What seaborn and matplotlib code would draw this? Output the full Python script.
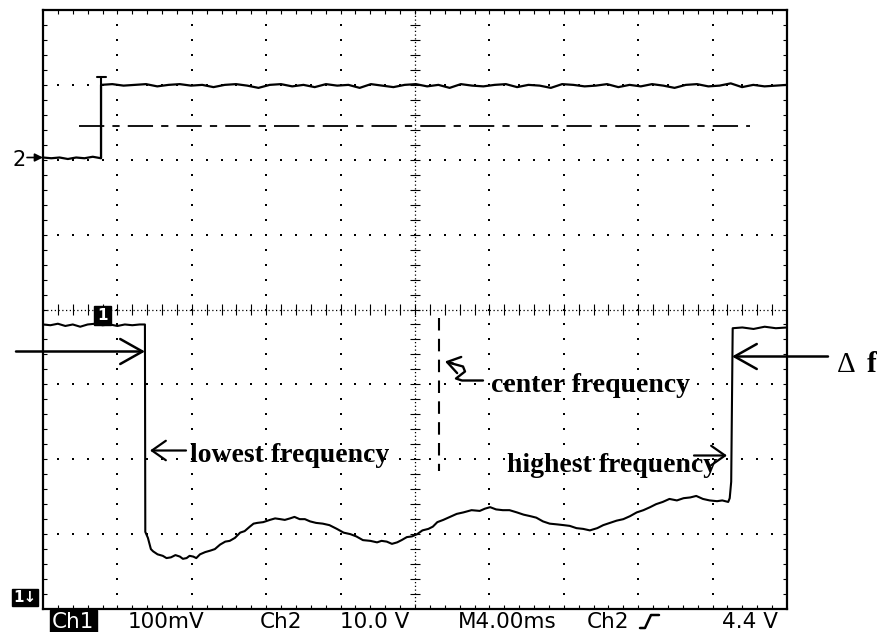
import numpy as np
import matplotlib
matplotlib.use("Agg")
import matplotlib.pyplot as plt
import seaborn as sns
from matplotlib.collections import LineCollection
from matplotlib.patches import Rectangle

# ---------------- data (screen divisions: x 0..10, y -4..4) ----------------
ch1_x = [0.00, 0.10, 0.20, 0.30, 0.40, 0.50, 0.60, 0.70, 0.80, 0.90,
         1.00, 1.10, 1.20, 1.30, 1.37, 1.375, 1.41, 1.45, 1.48, 1.54,
         1.61, 1.66, 1.72, 1.78, 1.84, 1.88, 1.93, 1.97, 2.02, 2.06,
         2.11, 2.18, 2.25, 2.31, 2.38, 2.45, 2.51, 2.58, 2.65, 2.71,
         2.78, 2.83, 2.88, 2.96, 3.05, 3.12, 3.19, 3.25, 3.32, 3.38,
         3.45, 3.52, 3.59, 3.67, 3.76, 3.85, 3.95, 4.04, 4.13, 4.21,
         4.30, 4.40, 4.49, 4.55, 4.62, 4.69, 4.76, 4.82, 4.89, 4.96,
         5.03, 5.10, 5.18, 5.24, 5.30, 5.38, 5.47, 5.56, 5.65, 5.76,
         5.87, 5.94, 6.01, 6.09, 6.18, 6.27, 6.37, 6.46, 6.55, 6.63,
         6.72, 6.81, 6.91, 7.00, 7.08, 7.17, 7.26, 7.35, 7.45, 7.53,
         7.62, 7.71, 7.80, 7.89, 7.98, 8.07, 8.16, 8.24, 8.33, 8.42,
         8.52, 8.61, 8.70, 8.78, 8.87, 8.96, 9.06, 9.13, 9.21, 9.23,
         9.25, 9.27, 9.40, 9.55, 9.70, 9.85, 10.00]
ch1_y = [-0.20, -0.21, -0.19, -0.22, -0.20, -0.23, -0.20, -0.19, -0.21, -0.20,
         -0.22, -0.20, -0.21, -0.20, -0.20, -2.97, -3.05, -3.20, -3.23, -3.27,
         -3.29, -3.32, -3.31, -3.28, -3.30, -3.33, -3.32, -3.29, -3.30, -3.32,
         -3.27, -3.24, -3.22, -3.20, -3.14, -3.10, -3.09, -3.05, -2.98, -2.96,
         -2.90, -2.86, -2.85, -2.84, -2.81, -2.79, -2.80, -2.81, -2.79, -2.77,
         -2.80, -2.80, -2.83, -2.85, -2.86, -2.88, -2.93, -2.98, -3.00, -3.03,
         -3.08, -3.09, -3.11, -3.09, -3.10, -3.13, -3.11, -3.08, -3.04, -3.03,
         -3.00, -2.95, -2.93, -2.90, -2.84, -2.81, -2.77, -2.73, -2.71, -2.68,
         -2.69, -2.66, -2.64, -2.67, -2.68, -2.68, -2.71, -2.74, -2.76, -2.78,
         -2.83, -2.86, -2.87, -2.88, -2.89, -2.92, -2.93, -2.95, -2.92, -2.88,
         -2.85, -2.82, -2.80, -2.76, -2.71, -2.68, -2.64, -2.60, -2.57, -2.53,
         -2.55, -2.52, -2.51, -2.49, -2.53, -2.55, -2.56, -2.55, -2.57, -2.52,
         -2.30, -0.25, -0.24, -0.26, -0.23, -0.25, -0.24]

ch2_step_x = 0.78
ch2_low_y = [2.03, 2.02, 2.03, 2.01, 2.03, 2.02, 2.04, 2.02]
ch2_high_y = [3.00, 3.01, 2.99, 3.00, 3.01, 2.98, 3.00, 3.01, 2.99, 3.00,
              2.97, 3.00, 3.01, 2.99, 2.96, 3.00, 3.01, 2.98, 3.00, 2.97,
              3.01, 2.99, 3.00, 2.96, 3.01, 2.99, 2.97, 3.00, 3.01, 2.98,
              3.00, 2.96, 3.01, 2.99, 2.98, 3.00, 3.01, 2.97, 3.00, 2.99,
              2.96, 3.01, 3.00, 2.98, 2.99, 3.01, 2.97, 3.00, 2.98, 3.01,
              2.99, 2.96, 3.00, 3.01, 2.98, 2.99, 3.02, 2.97, 3.00, 2.98,
              2.99, 3.00]
ch2_marker_top = 3.11
cursor_level = 2.45
cursor_span = [0.48, 9.50]
center_freq_x = 5.32
center_line_span = [-0.11, -2.16]

status_labels = ["Ch1", "100mV", "Ch2", "10.0 V", "M4.00ms", "Ch2", "4.4 V"]
annot_labels = ["lowest frequency", "center frequency", "highest frequency"]
delta_label = ["\u0394", "f"]

# ---------------- figure ----------------
sns.set_theme(style="white")
plt.rcParams['font.family'] = ['DejaVu Sans']
plt.rcParams['text.color'] = 'black'

W, H = 881, 632
fig = plt.figure(figsize=(W / 100, H / 100), dpi=100)
fig.patch.set_facecolor("white")
L, R, T, B = 43, 787, 10, 609
ax = fig.add_axes([L / W, 1 - B / H, (R - L) / W, (B - T) / H])
ax.set_xlim(0, 10)
ax.set_ylim(-4, 4)
ax.set_xticks([])
ax.set_yticks([])
ax.set_facecolor("white")
for s in ax.spines.values():
    s.set_color("black")
    s.set_linewidth(1.6)


def dx(px):
    return (px - L) / ((R - L) / 10)


def dy(py):
    return (310 - py) / ((B - T) / 8)


# graticule dots
gx, gy = [], []
for xv in range(1, 10):
    if xv == 5:
        continue
    for j in range(1, 40):
        gx.append(xv); gy.append(-4 + 0.2 * j)
for yv in range(-3, 4):
    if yv == 0:
        continue
    for j in range(1, 50):
        gx.append(0.2 * j); gy.append(yv)
ax.plot(gx, gy, ls="none", marker="s", ms=1.5, mew=0, color="black", zorder=1)

# centre cross (dense dotted with small ticks)
ax.plot([5, 5], [-4, 4], ls=(0, (1, 2)), lw=0.9, color="black", zorder=1)
ax.plot([0, 10], [0, 0], ls=(0, (1, 2)), lw=0.9, color="black", zorder=1)
segs = []
for j in range(1, 40):
    yv = -4 + 0.2 * j
    segs.append([(5 - 0.07, yv), (5 + 0.07, yv)])
for j in range(1, 50):
    xv = 0.2 * j
    segs.append([(xv, -0.07), (xv, 0.07)])
# border ticks
for j in range(1, 50):
    xv = 0.2 * j
    segs.append([(xv, 4), (xv, 4 - 0.055)])
    segs.append([(xv, -4), (xv, -4 + 0.055)])
for j in range(1, 40):
    yv = -4 + 0.2 * j
    segs.append([(0, yv), (0.055, yv)])
    segs.append([(10, yv), (10 - 0.055, yv)])
ax.add_collection(LineCollection(segs, colors="black", linewidths=0.8, zorder=1))

# ---------------- traces ----------------
ch2_x = list(np.linspace(0, ch2_step_x, len(ch2_low_y))) + \
        list(np.linspace(ch2_step_x, 10, len(ch2_high_y)))
ch2_y = ch2_low_y + ch2_high_y
sns.lineplot(x=ch2_x, y=ch2_y, estimator=None, sort=False, color="black",
             lw=1.6, ax=ax, legend=False, zorder=3)
sns.lineplot(x=ch1_x, y=ch1_y, estimator=None, sort=False, color="black",
             lw=1.5, ax=ax, legend=False, zorder=3)

# ch2 trigger marker "T"
ax.plot([ch2_step_x, ch2_step_x], [ch2_low_y[-1], ch2_marker_top], color="black", lw=1.5, zorder=3)
ax.plot([ch2_step_x - 0.06, ch2_step_x + 0.07], [ch2_marker_top, ch2_marker_top], color="black", lw=1.5, zorder=3)

# ch2 trigger cursor (dash-dot)
ax.plot(cursor_span, [cursor_level, cursor_level], color="black", lw=1.3,
        ls=(0, (14, 4.5, 4, 4.5)), zorder=2)

# centre frequency dashed marker
ax.plot([center_freq_x, center_freq_x], center_line_span, color="black", lw=1.5,
        ls=(0, (6, 4)), zorder=2)

# ch1 ground marker box
ax.add_patch(Rectangle((dx(94), dy(325)), dx(111) - dx(94), dy(306) - dy(325),
                       facecolor="black", edgecolor="black", zorder=4))
ax.text((dx(94) + dx(111)) / 2, (dy(306) + dy(325)) / 2, "1", color="white",
        fontsize=11, fontweight="bold", ha="center", va="center", zorder=5)

# ---------------- annotations ----------------
serif = ["Liberation Serif", "DejaVu Serif"]
for lab, (xp, yp) in zip(annot_labels, [(190, 462), (491, 393), (507, 473)]):
    ax.text(dx(xp), dy(yp), lab, family=serif, fontweight="bold", color="black",
            fontsize=20, ha="left", va="baseline", clip_on=False)
ax.text(dx(837), dy(372), delta_label[0], family=serif, fontsize=21, color="black",
        ha="left", va="baseline", clip_on=False)
ax.text(dx(867), dy(372), delta_label[1], family=serif, fontweight="bold",
        fontsize=21, color="black", ha="left", va="baseline", clip_on=False)

big = dict(arrowstyle="->,head_length=0.8,head_width=0.45", color="black",
           lw=1.8, mutation_scale=20, shrinkA=0, shrinkB=0)
small = dict(arrowstyle="->,head_length=0.5,head_width=0.35", color="black",
             lw=1.6, mutation_scale=20, shrinkA=0, shrinkB=0)
ax.annotate("", xy=(dx(145), dy(352)), xytext=(dx(16), dy(352)),
            arrowprops=big, annotation_clip=False)
ax.annotate("", xy=(dx(732), dy(357)), xytext=(dx(828), dy(357)),
            arrowprops=big, annotation_clip=False)
ax.annotate("", xy=(dx(150), dy(451)), xytext=(dx(186), dy(451)),
            arrowprops=small, annotation_clip=False)
ax.annotate("", xy=(dx(727), dy(456)), xytext=(dx(694), dy(456)),
            arrowprops=small, annotation_clip=False)
# squiggle arrow toward the centre-frequency marker
sq = [(483, 381), (462, 381), (456, 379), (465, 372), (463, 367), (452, 364)]
ax.plot([dx(p[0]) for p in sq], [dy(p[1]) for p in sq], color="black", lw=1.7,
        clip_on=False, zorder=4)
ax.annotate("", xy=(dx(445), dy(362)), xytext=(dx(453), dy(364)),
            arrowprops=dict(arrowstyle="->,head_length=0.45,head_width=0.3",
                            color="black", lw=1.7, mutation_scale=20,
                            shrinkA=0, shrinkB=0), annotation_clip=False)

# ch2 ground marker "2->"
fig.text(13 / W, 1 - 166 / H, "2", fontsize=15, color="black", ha="left", va="baseline")
ax.annotate("", xy=(dx(43), dy(158)), xytext=(dx(27), dy(158)),
            arrowprops=dict(arrowstyle="-|>,head_length=0.4,head_width=0.2",
                            color="black", lw=1.2, mutation_scale=12,
                            shrinkA=0, shrinkB=0), annotation_clip=False)

# ch1 bottom marker "1↓"
fig.text(13 / W, 1 - 602 / H, "1\u2193", fontsize=11, fontweight="bold",
         color="white", ha="left", va="baseline",
         bbox=dict(facecolor="black", edgecolor="black", pad=1.0))

# ---------------- status line ----------------
status_x = [52, 128, 260, 340, 458, 587, 722]
for i, (lab, xp) in enumerate(zip(status_labels, status_x)):
    if i == 0:
        fig.text(xp / W, 1 - 628 / H, lab, fontsize=15.5, color="white",
                 ha="left", va="baseline",
                 bbox=dict(facecolor="black", edgecolor="black", pad=1.5))
    else:
        fig.text(xp / W, 1 - 628 / H, lab, fontsize=15.5, color="black",
                 ha="left", va="baseline")
# rising-edge trigger symbol
sym = [(640, 628), (645, 628), (651, 615), (659, 615)]
fig.add_artist(plt.Line2D([p[0] / W for p in sym], [1 - p[1] / H for p in sym],
                          color="black", lw=1.8, transform=fig.transFigure))

fig.savefig("out.png", dpi=100, facecolor="white")
